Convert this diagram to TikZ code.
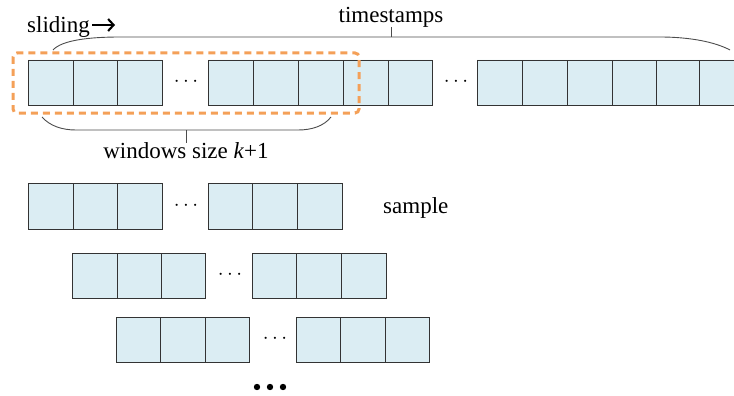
\documentclass[tikz,border=0pt]{standalone}
\usepackage{fontspec}
\usetikzlibrary{arrows.meta}
\setmainfont{Liberation Serif}
\definecolor{cellblue}{RGB}{219,237,243}
\definecolor{winorange}{RGB}{244,160,88}
\tikzset{
    cell/.style={fill=cellblue, draw=black!80, line width=0.9pt},
    brace/.style={draw=black!70, line width=0.9pt},
    gap/.style={font=\fontsize{20}{20}\selectfont, inner sep=0pt},
    label/.style={font=\fontsize{23}{23}\selectfont, inner sep=0pt}
}
\begin{document}
\begin{tikzpicture}[x=1pt, y=-1pt]
    \useasboundingbox (0,0) rectangle (734,396);
    % timestamps row
    \filldraw[cell] (28,60) rectangle (73,105) (73,60) rectangle (117,105) (117,60) rectangle (162,105);
    \node[gap] (d1) at (186,82) {$\cdots$};
    \filldraw[cell] (208,60) rectangle (253,105) (253,60) rectangle (298,105) (298,60) rectangle (343,105);
    \filldraw[cell] (343,60) rectangle (388,105) (388,60) rectangle (432,105);
    \node[gap] (d2) at (456,82) {$\cdots$};
    \filldraw[cell] (477,60) rectangle (522,105) (522,60) rectangle (567,105) (567,60) rectangle (612,105);
    \filldraw[cell] (612,60) rectangle (656,105) (656,60) rectangle (699,105) (699,60) rectangle (744,105);
    % sliding window
    \draw[winorange, line width=3pt, dash pattern=on 7pt off 5pt, rounded corners=4pt] (13,53) rectangle (359,113);
    \node[label, anchor=base west] (sliding) at (27,33) {sliding};
    \coordinate (slidetip) at (115,25);
    \draw[line width=2.1pt, -{Straight Barb[length=5.5pt, width=12pt]}] ([xshift=2pt, yshift=8pt]sliding.base east) -- (slidetip);
    % braces
    \draw[brace] (53,50) .. controls (62,40) and (90,37) .. (120,37) -- (660,37) .. controls (690,37) and (715,42) .. (730,50);
    \draw[brace] (391,37) -- (391,27);
    \node[label, anchor=base] (ts) at (391,23) {timestamps};
    \draw[brace] (42,117) .. controls (50,126) and (62,130) .. (76,130) -- (298,130) .. controls (312,130) and (324,126) .. (331,117);
    \draw[brace] (186,130) -- (186,143);
    \node[label, anchor=base] (ws) at (186,158) {windows size \textit{k}+1};
    % samples
    \filldraw[cell] (28,183) rectangle (73,229) (73,183) rectangle (117,229) (117,183) rectangle (162,229);
    \node[gap] (d3) at (186,206) {$\cdots$};
    \filldraw[cell] (208,183) rectangle (252,229) (252,183) rectangle (297,229) (297,183) rectangle (342,229);
    \node[label, anchor=base west] (sample) at (383,213) {sample};
    \filldraw[cell] (72,253) rectangle (117,298) (117,253) rectangle (161,298) (161,253) rectangle (205,298);
    \node[gap] (d4) at (230,275) {$\cdots$};
    \filldraw[cell] (252,253) rectangle (296,298) (296,253) rectangle (341,298) (341,253) rectangle (386,298);
    \filldraw[cell] (116,317) rectangle (160,362) (160,317) rectangle (205,362) (205,317) rectangle (249,362);
    \node[gap] (d5) at (275,339) {$\cdots$};
    \filldraw[cell] (296,317) rectangle (340,362) (340,317) rectangle (385,362) (385,317) rectangle (429,362);
    % more samples
    \fill (257,387) circle (3.2pt) (270,387) circle (3.2pt) (283,387) circle (3.2pt);
\end{tikzpicture}
\end{document}
